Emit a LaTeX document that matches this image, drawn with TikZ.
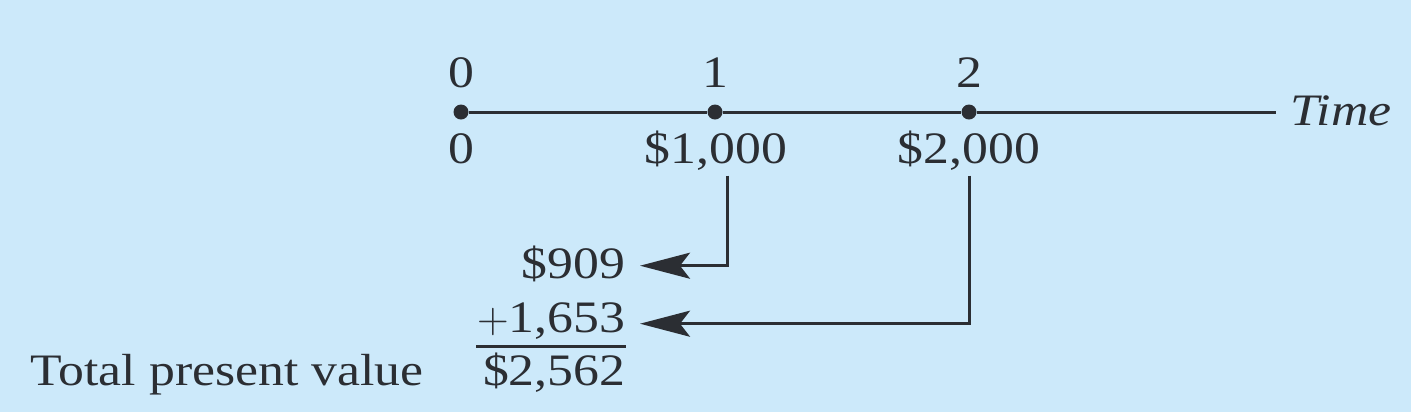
\documentclass[tikz,border=0pt]{standalone}
\usepackage{fontspec}
\setmainfont[FakeStretch=1.15]{Liberation Serif}
\usetikzlibrary{arrows.meta}
\definecolor{bgblue}{HTML}{CCE9FA}
\definecolor{ink}{HTML}{2B2E33}
\tikzset{
  txt/.style={inner sep=0pt,text=ink,font=\fontsize{12.8}{15}\selectfont},
  pvtxt/.style={txt,text height=0.7em,text depth=0pt,anchor=base east},
  dot/.style={circle,fill=ink,inner sep=0pt,minimum size=1.5mm},
  pvarrow/.style={draw=ink,line width=0.85pt,-{Stealth[length=5mm,width=2.6mm,inset=1mm]}}
}
\begin{document}
\begin{tikzpicture}
\fill[bgblue](0,0) rectangle (14.11,-4.12);
\useasboundingbox(0,0) rectangle (14.11,-4.12);
\node[dot] (t0) at (4.61,-1.12){};
\node[dot] (t1) at (7.15,-1.12){};
\node[dot] (t2) at (9.69,-1.12){};
\coordinate (tend) at (12.76,-1.12);
\draw[ink,line width=0.85pt](t0)--(t1)--(t2)--(tend);
\node[txt,anchor=base west] (time) at (12.90,-1.25){\itshape Time};
\node[txt,anchor=base] (n0) at (4.61,-0.87){0};
\node[txt,anchor=base] (n1) at (7.15,-0.87){1};
\node[txt,anchor=base] (n2) at (9.69,-0.87){2};
\node[txt,anchor=base] (cf0) at (4.61,-1.63){0};
\node[txt,anchor=base] (cf1) at (7.16,-1.63){\$1,000};
\node[txt,anchor=base] (cf2) at (9.69,-1.63){\$2,000};
\node[pvtxt] (pv1) at (6.26,-2.78){\$909};
\node[pvtxt] (pv2) at (6.26,-3.32){$+$1,653};
\node[pvtxt] (tot) at (6.26,-3.85){\$2,562};
\node[txt,anchor=base west] (totlab) at (0.30,-3.85){Total present value};
\draw[pvarrow]([xshift=1.1mm,yshift=-0.5mm]cf1.south) |- ([xshift=1.4mm]pv1.east);
\draw[pvarrow]([yshift=-0.5mm]cf2.south) |- ([xshift=1.4mm,yshift=-0.4mm]pv2.east);
\draw[ink,line width=0.7pt]([yshift=-1.4mm]pv2.south west)--([yshift=-1.4mm]pv2.south east);
\end{tikzpicture}
\end{document}
